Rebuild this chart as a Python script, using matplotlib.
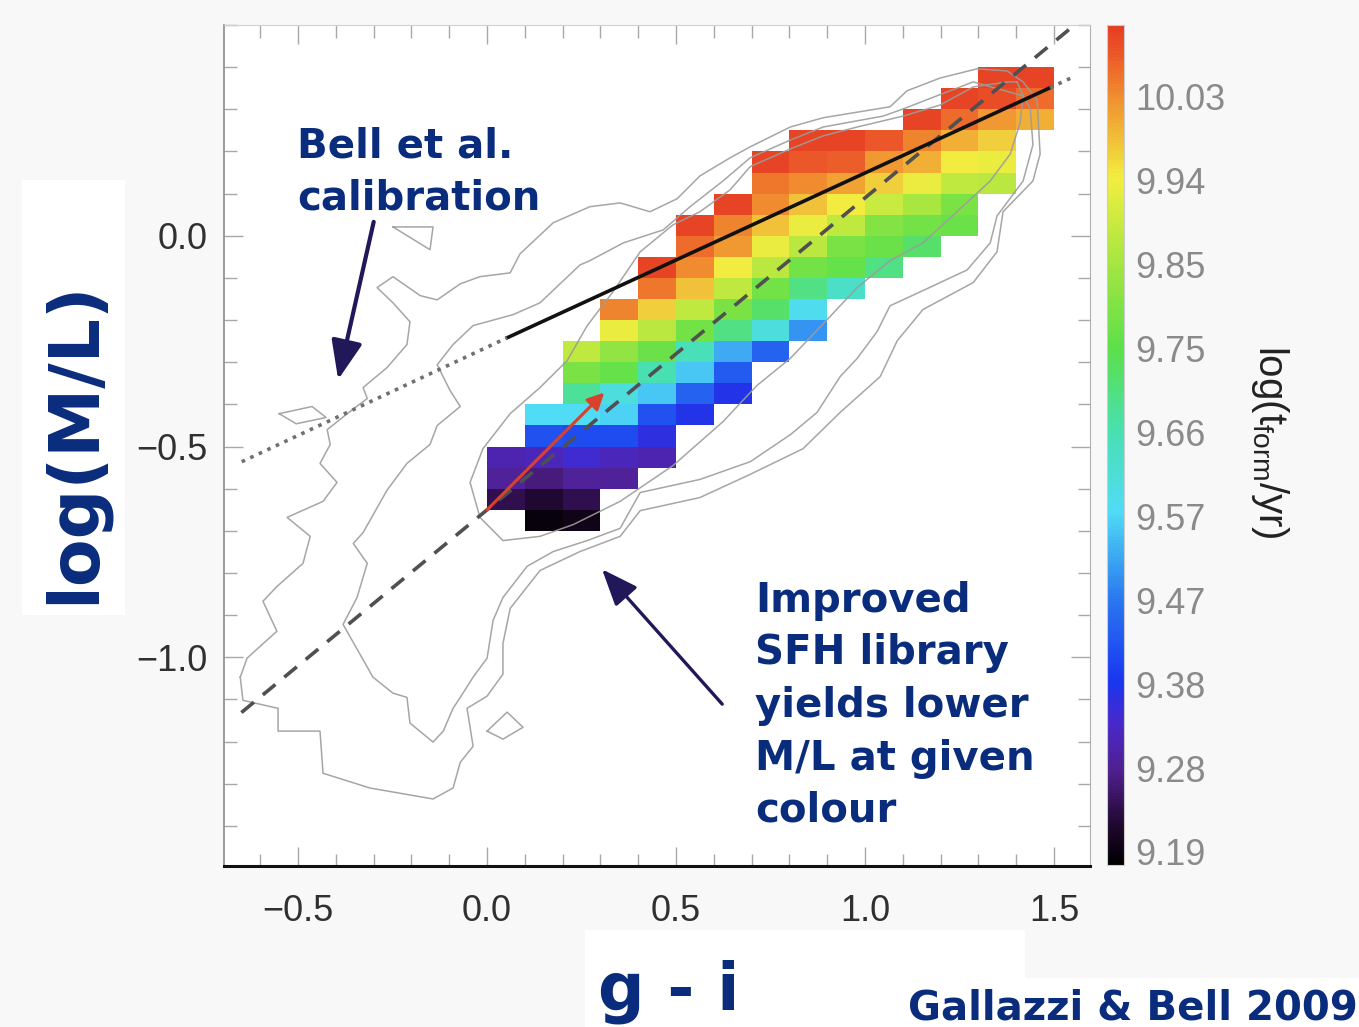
import numpy as np
import matplotlib
matplotlib.use("Agg")
import matplotlib.pyplot as plt
from matplotlib.colors import LinearSegmentedColormap, Normalize
from matplotlib.patches import Rectangle
from matplotlib.ticker import MultipleLocator, FixedLocator
import matplotlib.colorbar as mcolorbar

n = np.nan
# ---------------- data ----------------
x_edges = [0.0, 0.1, 0.2, 0.3, 0.4, 0.5, 0.6, 0.7, 0.8, 0.9, 1.0, 1.1, 1.2, 1.3, 1.4, 1.5]
y_edges = [-0.70, -0.65, -0.60, -0.55, -0.50, -0.45, -0.40, -0.35, -0.30, -0.25, -0.20, -0.15,
           -0.10, -0.05, 0.00, 0.05, 0.10, 0.15, 0.20, 0.25, 0.30, 0.35, 0.40]
# log(t_form/yr) per cell, rows listed from top (0.35-0.40) to bottom (-0.70--0.65)
tform_rows_top_down = [
    [n, n, n, n, n, n, n, n, n, n, n, n, n, 10.10, 10.10],
    [n, n, n, n, n, n, n, n, n, n, n, n, 10.10, 10.09, 10.06],
    [n, n, n, n, n, n, n, n, n, n, n, 10.10, 10.06, 10.02, 10.00],
    [n, n, n, n, n, n, n, n, 10.10, 10.10, 10.08, 10.04, 10.00, 9.97, n],
    [n, n, n, n, n, n, n, 10.10, 10.08, 10.07, 10.02, 10.00, 9.94, 9.93, n],
    [n, n, n, n, n, n, n, 10.05, 10.03, 10.01, 9.97, 9.93, 9.88, 9.87, n],
    [n, n, n, n, n, n, 10.10, 10.03, 9.98, 9.94, 9.89, 9.85, 9.79, n, n],
    [n, n, n, n, n, 10.10, 10.04, 9.98, 9.93, 9.88, 9.80, 9.78, 9.77, n, n],
    [n, n, n, n, n, 10.06, 10.02, 9.93, 9.87, 9.79, 9.77, 9.72, n, n, n],
    [n, n, n, n, 10.10, 10.03, 9.94, 9.87, 9.78, 9.76, 9.70, n, n, n, n],
    [n, n, n, n, 10.05, 9.98, 9.88, 9.78, 9.70, 9.63, n, n, n, n, n],
    [n, n, n, 10.04, 9.97, 9.88, 9.79, 9.72, 9.58, n, n, n, n, n, n],
    [n, n, n, 9.93, 9.87, 9.78, 9.70, 9.60, 9.50, n, n, n, n, n, n],
    [n, n, 9.88, 9.82, 9.77, 9.65, 9.52, 9.44, n, n, n, n, n, n, n],
    [n, n, 9.79, 9.76, 9.66, 9.55, 9.43, n, n, n, n, n, n, n, n],
    [n, n, 9.68, 9.60, 9.55, 9.44, 9.37, n, n, n, n, n, n, n, n],
    [n, 9.57, 9.57, 9.56, 9.42, 9.37, n, n, n, n, n, n, n, n, n],
    [n, 9.42, 9.41, 9.41, 9.36, n, n, n, n, n, n, n, n, n, n],
    [9.31, 9.32, 9.34, 9.32, 9.31, n, n, n, n, n, n, n, n, n, n],
    [9.29, 9.27, 9.29, 9.29, n, n, n, n, n, n, n, n, n, n, n],
    [9.24, 9.22, 9.24, n, n, n, n, n, n, n, n, n, n, n, n],
    [n, 9.19, 9.20, n, n, n, n, n, n, n, n, n, n, n, n],
]

# density contours (g-i, log M/L)
contour_outer_x = [-0.653, -0.646, -0.553, -0.553, -0.442, -0.434, -0.310, -0.143, -0.090, -0.071,
                   -0.037, -0.053, 0.000, 0.042, 0.042, 0.061, 0.140, 0.246, 0.352, 0.405, 0.563,
                   0.696, 0.836, 0.934, 1.040, 1.085, 1.153, 1.286, 1.349, 1.365, 1.444, 1.463,
                   1.455, 1.418, 1.376, 1.296, 1.198, 1.111, 1.066, 0.889, 0.802, 0.696, 0.643,
                   0.563, 0.503, 0.431, 0.352, 0.272, 0.175, 0.087, 0.061, -0.019, -0.071, -0.132,
                   -0.177, -0.249, -0.291, -0.249, -0.204, -0.212, -0.265, -0.328, -0.317, -0.370,
                   -0.423, -0.415, -0.442, -0.397, -0.434, -0.529, -0.468, -0.487, -0.556, -0.593,
                   -0.556, -0.635, -0.653]
contour_outer_y = [-1.047, -1.102, -1.121, -1.175, -1.175, -1.275, -1.310, -1.336, -1.310, -1.249,
                   -1.211, -1.121, -1.092, -1.040, -0.967, -0.884, -0.794, -0.749, -0.713, -0.652,
                   -0.621, -0.566, -0.505, -0.419, -0.334, -0.249, -0.175, -0.111, -0.038, 0.057,
                   0.130, 0.194, 0.322, 0.365, 0.391, 0.396, 0.374, 0.344, 0.306, 0.280, 0.258,
                   0.211, 0.185, 0.142, 0.088, 0.057, 0.078, 0.069, 0.031, -0.043, -0.088, -0.097,
                   -0.114, -0.152, -0.142, -0.097, -0.123, -0.159, -0.204, -0.258, -0.313, -0.360,
                   -0.386, -0.422, -0.460, -0.495, -0.540, -0.585, -0.630, -0.668, -0.713, -0.777,
                   -0.832, -0.867, -0.938, -1.002, -1.047]
contour_mid_x = [1.418, 1.286, 1.190, 1.101, 1.048, 0.889, 0.802, 0.696, 0.624, 0.537, 0.466, 0.360,
                 0.272, 0.246, 0.140, 0.069, -0.037, -0.090, -0.132, -0.098, -0.071, -0.132, -0.151,
                 -0.212, -0.265, -0.328, -0.354, -0.317, -0.344, -0.381, -0.336, -0.302, -0.249,
                 -0.212, -0.204, -0.143, -0.116, -0.090, -0.071, -0.037, 0.000, 0.016, 0.042, 0.106,
                 0.175, 0.265, 0.352, 0.405, 0.563, 0.696, 0.802, 0.873, 0.934, 0.979, 1.032, 1.066,
                 1.146, 1.270, 1.331, 1.349, 1.418, 1.444, 1.437, 1.418]
contour_mid_y = [0.332, 0.365, 0.332, 0.301, 0.284, 0.258, 0.227, 0.185, 0.130, 0.069, 0.014, -0.017,
                 -0.059, -0.069, -0.159, -0.187, -0.213, -0.258, -0.306, -0.367, -0.405, -0.450,
                 -0.495, -0.540, -0.604, -0.704, -0.730, -0.777, -0.858, -0.922, -0.993, -1.047,
                 -1.085, -1.095, -1.156, -1.201, -1.175, -1.121, -1.095, -1.047, -1.002, -0.912,
                 -0.858, -0.784, -0.749, -0.723, -0.694, -0.609, -0.578, -0.536, -0.472, -0.419,
                 -0.334, -0.291, -0.227, -0.166, -0.133, -0.081, -0.017, 0.047, 0.130, 0.216, 0.301,
                 0.332]
contour_inner_x = [1.402, 1.376, 1.286, 1.198, 1.101, 0.979, 0.889, 0.802, 0.696, 0.643, 0.563, 0.492,
                   0.405, 0.333, 0.265, 0.212, 0.140, 0.061, -0.011, -0.045, -0.019, 0.042, 0.140,
                   0.228, 0.352, 0.492, 0.624, 0.714, 0.802, 0.889, 0.979, 1.066, 1.153, 1.243, 1.331,
                   1.384, 1.410, 1.418, 1.402]
contour_inner_y = [0.365, 0.365, 0.353, 0.310, 0.284, 0.258, 0.237, 0.206, 0.164, 0.109, 0.057, 0.026,
                   -0.038, -0.133, -0.213, -0.296, -0.360, -0.422, -0.505, -0.585, -0.668, -0.723,
                   -0.713, -0.685, -0.630, -0.545, -0.441, -0.355, -0.291, -0.209, -0.123, -0.059,
                   -0.017, 0.057, 0.130, 0.194, 0.268, 0.332, 0.365]
islands = [
    ([-0.249, -0.143, -0.151, -0.249], [0.021, 0.021, -0.033, 0.021]),
    ([-0.550, -0.463, -0.426, -0.505, -0.550], [-0.422, -0.405, -0.431, -0.446, -0.422]),
    ([0.000, 0.053, 0.095, 0.042, 0.000], [-1.175, -1.130, -1.166, -1.194, -1.175]),
]

# relations
gb_x = [-0.65, 1.60]
gb_y = [-1.131, 0.534]
bell_solid_x = [0.053, 1.489]
bell_solid_y = [-0.242, 0.351]
bell_dot_left_x = [-0.649, 0.053]
bell_dot_left_y = [-0.536, -0.242]
bell_dot_right_x = [1.489, 1.556]
bell_dot_right_y = [0.351, 0.379]
red_arrow = [(0.0, -0.65), (0.31, -0.372)]

x_ticks = [-0.5, 0.0, 0.5, 1.0, 1.5]
x_ticklabels = ["\u22120.5", "0.0", "0.5", "1.0", "1.5"]
y_ticks = [-1.0, -0.5, 0.0]
y_ticklabels = ["\u22121.0", "\u22120.5", "0.0"]
cb_ticks = [9.19, 9.2833, 9.3767, 9.47, 9.5633, 9.6567, 9.75, 9.8433, 9.9367, 10.03]
cb_ticklabels = ["9.19", "9.28", "9.38", "9.47", "9.57", "9.66", "9.75", "9.85", "9.94", "10.03"]
cb_range = [9.1755, 10.11]

# ---------------- style ----------------
cmap = LinearSegmentedColormap.from_list("idl_rainbow", [
    (0.000, "#000000"), (0.047, "#200830"), (0.111, "#50208f"), (0.165, "#4a28c8"),
    (0.218, "#1a36f0"), (0.315, "#2a78f0"), (0.422, "#50dcf5"), (0.518, "#48e0b0"),
    (0.615, "#5ce04a"), (0.722, "#a8e640"), (0.818, "#f2ee40"), (0.914, "#f09030"),
    (0.965, "#ec5a28"), (1.000, "#e63c24")])
navy = "#0a2c7c"
arrow_col = "#21185a"
bold_font = "DejaVu Sans"
tick_font = "Liberation Sans"

W, H = 1359, 1027
fig = plt.figure(figsize=(W / 100, H / 100), dpi=100, facecolor="#f8f8f8")

def fx(px):
    return px / W

def fy(py):
    return 1 - py / H

for (x0, y0, x1, y1) in [(22, 180, 125, 615), (585, 930, 1025, 1027), (900, 978, 1359, 1027)]:
    fig.patches.append(Rectangle((fx(x0), fy(y1)), fx(x1) - fx(x0), fy(y0) - fy(y1),
                                 transform=fig.transFigure, facecolor="white",
                                 edgecolor="none", zorder=0))

ax = fig.add_axes([fx(224), fy(866), fx(1090) - fx(224), fy(25) - fy(866)])
ax.set_facecolor("white")

Z = np.ma.masked_invalid(np.array(tform_rows_top_down[::-1]))
norm = Normalize(vmin=cb_range[0], vmax=cb_range[1])
ax.pcolormesh(x_edges, y_edges, Z, cmap=cmap, norm=norm, zorder=1, edgecolor="none")

for cx, cy in [(contour_outer_x, contour_outer_y), (contour_mid_x, contour_mid_y),
               (contour_inner_x, contour_inner_y)] + islands:
    ax.plot(cx, cy, color="#9c9c9c", lw=1.1, zorder=2, alpha=0.9)

ax.plot(gb_x, gb_y, color="#505050", lw=2.6, dashes=(4.5, 3.2), zorder=3)
ax.plot(bell_solid_x, bell_solid_y, color="#111111", lw=2.6, zorder=3)
ax.plot(bell_dot_left_x, bell_dot_left_y, color="#707070", lw=2.6, linestyle=(0, (1, 1.6)), zorder=3)
ax.plot(bell_dot_right_x, bell_dot_right_y, color="#707070", lw=2.6, linestyle=(0, (1, 1.6)), zorder=3)

ax.annotate("", xy=red_arrow[1], xytext=red_arrow[0],
            arrowprops=dict(arrowstyle="-|>,head_length=0.5,head_width=0.25", color="#d8412c",
                            lw=2.2, mutation_scale=20, shrinkA=0, shrinkB=0), zorder=4)

ax.set_xlim(-0.696, 1.595)
ax.set_ylim(-1.495, 0.5)
ax.xaxis.set_major_locator(FixedLocator(x_ticks))
ax.yaxis.set_major_locator(FixedLocator(y_ticks))
ax.xaxis.set_minor_locator(MultipleLocator(0.1))
ax.yaxis.set_minor_locator(MultipleLocator(0.1))
ax.set_xticklabels(x_ticklabels)
ax.set_yticklabels(y_ticklabels)
ax.tick_params(which="both", direction="in", top=True, right=True, color="#a8a8a8", width=1.0)
ax.tick_params(which="major", length=14)
ax.tick_params(which="minor", length=9)
ax.tick_params(axis="x", which="major", pad=20, labelsize=26, labelcolor="#303030")
ax.tick_params(axis="y", which="major", pad=12, labelsize=26, labelcolor="#303030")
for lab in ax.get_xticklabels() + ax.get_yticklabels():
    lab.set_fontfamily(tick_font)
ax.spines["bottom"].set_color("#111111")
ax.spines["bottom"].set_linewidth(2.2)
ax.spines["left"].set_color("#8a8a8a")
ax.spines["left"].set_linewidth(1.2)
ax.spines["top"].set_color("#d0d0d0")
ax.spines["right"].set_color("#b0b0b0")

# colorbar
cax = fig.add_axes([fx(1107), fy(865), fx(1124) - fx(1107), fy(25) - fy(865)])
cb = mcolorbar.ColorbarBase(cax, cmap=cmap, norm=norm, orientation="vertical")
cb.set_ticks(cb_ticks)
cb.set_ticklabels(cb_ticklabels)
cb.outline.set_edgecolor("#cccccc")
cb.outline.set_linewidth(0.8)
cax.tick_params(length=0, pad=8, labelsize=26, labelcolor="#8a8a8a")
for lab in cax.get_yticklabels():
    lab.set_fontfamily(tick_font)
fig.text(fx(1270), fy(442), r"log($\mathregular{t_{form}}$/yr)", rotation=-90,
         ha="center", va="center", fontsize=29, color="#222222", family=tick_font)

# annotations
fig.text(fx(74), fy(442), "log(M/L)", rotation=90, ha="center", va="center",
         fontsize=50, fontweight="bold", color=navy, family=bold_font)
fig.text(fx(598), fy(1010), "g - i", ha="left", va="baseline", fontsize=47,
         fontweight="bold", color=navy, family=bold_font)
fig.text(fx(908), fy(1019), "Gallazzi & Bell 2009", ha="left", va="baseline", fontsize=29,
         fontweight="bold", color=navy, family=bold_font)
fig.text(fx(297), fy(158), "Bell et al.", ha="left", va="baseline", fontsize=29,
         fontweight="bold", color=navy, family=bold_font)
fig.text(fx(297), fy(210), "calibration", ha="left", va="baseline", fontsize=29,
         fontweight="bold", color=navy, family=bold_font)
for line, base in zip(["Improved", "SFH library", "yields lower", "M/L at given", "colour"],
                      [612, 664, 717, 770, 822]):
    fig.text(fx(755), fy(base), line, ha="left", va="baseline", fontsize=29,
             fontweight="bold", color=navy, family=bold_font)

ax.annotate("", xy=(-0.394, -0.341), xytext=(-0.30, 0.033),
            arrowprops=dict(arrowstyle="-|>,head_length=0.7,head_width=0.28", color=arrow_col,
                            lw=3.0, mutation_scale=34, shrinkA=0, shrinkB=0),
            zorder=5, annotation_clip=False)
ax.annotate("", xy=(0.304, -0.791), xytext=(0.622, -1.111),
            arrowprops=dict(arrowstyle="-|>,head_length=0.7,head_width=0.28", color=arrow_col,
                            lw=2.4, mutation_scale=32, shrinkA=0, shrinkB=0),
            zorder=5, annotation_clip=False)

fig.savefig("out.png", dpi=100, facecolor=fig.get_facecolor())
